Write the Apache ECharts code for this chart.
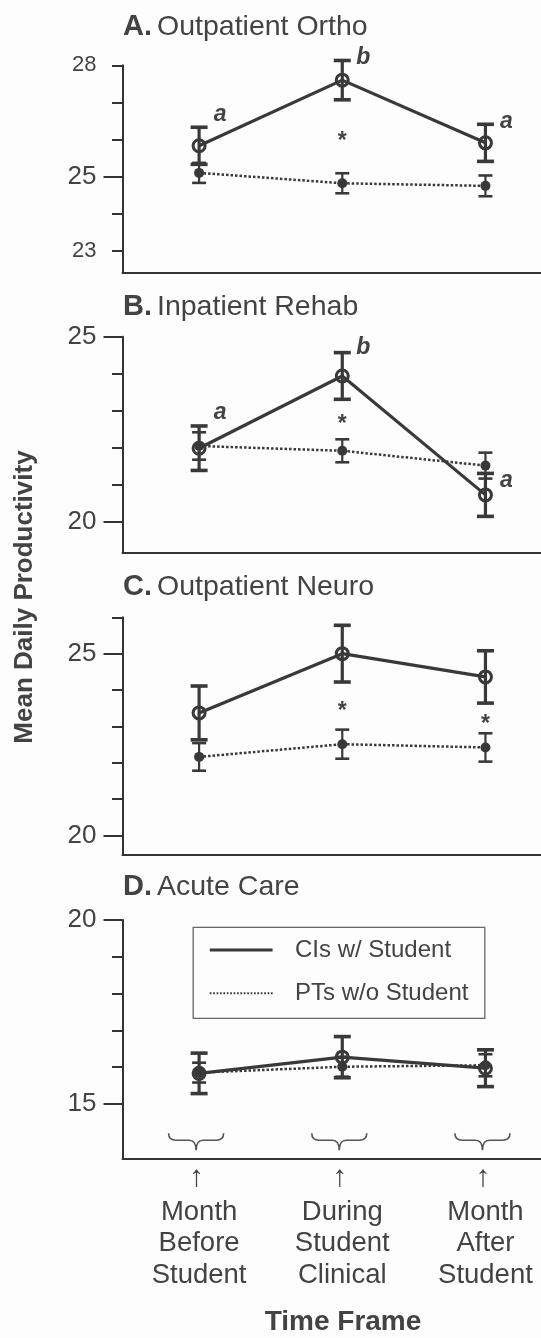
<!DOCTYPE html>
<html><head><meta charset="utf-8">
<script src="https://cdn.jsdelivr.net/npm/echarts@6/dist/echarts.min.js"></script>
<style>html,body{margin:0;padding:0;background:#fdfdfd}#c{width:541px;height:1338px}</style>
</head><body><div id="c"></div>
<script>
// ---------- data ----------
const categories = ['Month\nBefore\nStudent', 'During\nStudent\nClinical', 'Month\nAfter\nStudent'];
const panelLetters = ['A.', 'B.', 'C.', 'D.'];
const panelNames = ['Outpatient Ortho', 'Inpatient Rehab', 'Outpatient Neuro', 'Acute Care'];
const seriesNames = ['CIs w/ Student', 'PTs w/o Student'];

// A. Outpatient Ortho
const ciMeanA = [25.83, 27.60, 25.91];
const ciErrA  = [0.50, 0.53, 0.50];
const ptMeanA = [25.10, 24.82, 24.75];
const ptErrA  = [0.27, 0.27, 0.28];
const notesA  = [[0, 26.61, 'a'], [1, 28.20, 'b'], [2, 26.42, 'a'], [1, 26.07, '*']];
const yRangeA = [22.42, 28];
const yMinorA = [23, 24, 25, 26, 27, 28];
const yMajorA = [25];
const yLabelsA = [23, 25, 28];
const ySmallA = [23, 28];

// B. Inpatient Rehab
const ciMeanB = [21.99, 23.94, 20.73];
const ciErrB  = [0.60, 0.63, 0.58];
const ptMeanB = [22.05, 21.92, 21.52];
const ptErrB  = [0.37, 0.31, 0.35];
const notesB  = [[0, 22.89, 'a'], [1, 24.70, 'b'], [2, 21.07, 'a'], [1, 22.75, '*']];
const yRangeB = [19.18, 25];
const yMinorB = [20, 21, 22, 23, 24, 25];
const yMajorB = [20, 25];
const yLabelsB = [20, 25];

// C. Outpatient Neuro
const ciMeanC = [23.37, 25.00, 24.36];
const ciErrC  = [0.74, 0.78, 0.72];
const ptMeanC = [22.16, 22.51, 22.42];
const ptErrC  = [0.38, 0.40, 0.39];
const notesC  = [[1, 23.53, '*'], [2, 23.19, '*']];
const yRangeC = [19.47, 26];
const yMinorC = [20, 21, 22, 23, 24, 25, 26];
const yMajorC = [20, 25];
const yLabelsC = [20, 25];

// D. Acute Care
const ciMeanD = [15.83, 16.27, 15.97];
const ciErrD  = [0.55, 0.56, 0.50];
const ptMeanD = [15.85, 16.01, 16.05];
const ptErrD  = [0.27, 0.27, 0.30];
const notesD  = [];
const yRangeD = [13.52, 20];
const yMinorD = [15, 16, 17, 18, 19, 20];
const yMajorD = [15, 20];
const yLabelsD = [15, 20];

// ---------- build ----------
const INK = '#393939';
const TXT = '#434343';
const FONT = '"Liberation Sans", Arial, Helvetica, sans-serif';
const X_RANGE = [-0.535, 2.388];

const panels = [
  {ci: ciMeanA, ciE: ciErrA, pt: ptMeanA, ptE: ptErrA, notes: notesA, range: yRangeA, minor: yMinorA, major: yMajorA, labels: yLabelsA, small: ySmallA, top: 65.3, height: 207, titleY: 27},
  {ci: ciMeanB, ciE: ciErrB, pt: ptMeanB, ptE: ptErrB, notes: notesB, range: yRangeB, minor: yMinorB, major: yMajorB, labels: yLabelsB, small: [], top: 336.7, height: 215.6, titleY: 306.7},
  {ci: ciMeanC, ciE: ciErrC, pt: ptMeanC, ptE: ptErrC, notes: notesC, range: yRangeC, minor: yMinorC, major: yMajorC, labels: yLabelsC, small: [], top: 617.3, height: 237.4, titleY: 586.7},
  {ci: ciMeanD, ciE: ciErrD, pt: ptMeanD, ptE: ptErrD, notes: notesD, range: yRangeD, minor: yMinorD, major: yMajorD, labels: yLabelsD, small: [], top: 920, height: 238.3, titleY: 887.3}
];

const grid = [], xAxis = [], yAxis = [], series = [], title = [];

function errRender(lineW, capW, capT) {
  return function (params, api) {
    const x = api.value(0), lo = api.value(1), hi = api.value(2);
    const a = api.coord([x, hi]), b = api.coord([x, lo]);
    const st = {stroke: INK, lineWidth: lineW};
    const cs = {stroke: INK, lineWidth: capT};
    return {type: 'group', children: [
      {type: 'line', shape: {x1: a[0], y1: a[1], x2: b[0], y2: b[1]}, style: st},
      {type: 'line', shape: {x1: a[0] - capW / 2, y1: a[1], x2: a[0] + capW / 2, y2: a[1]}, style: cs},
      {type: 'line', shape: {x1: b[0] - capW / 2, y1: b[1], x2: b[0] + capW / 2, y2: b[1]}, style: cs}
    ]};
  };
}

panels.forEach((p, i) => {
  grid.push({left: 122.5, right: 0, top: p.top, height: p.height, containLabel: false});
  const isLast = i === panels.length - 1;
  xAxis.push({
    gridIndex: i, type: 'value', min: X_RANGE[0], max: X_RANGE[1],
    axisLine: {show: true, onZero: false, lineStyle: {color: '#333', width: 2}},
    axisTick: {show: false}, splitLine: {show: false},
    axisLabel: isLast ? {
      show: true, customValues: [0, 1, 2], margin: 0,
      formatter: v => {
        const lines = categories[Math.round(v)].split('\n');
        return '{arr|\u2191}\n' + lines.map(l => '{t|' + l + '}').join('\n');
      },
      rich: {
        arr: {fontSize: 30, lineHeight: 38, color: TXT, fontFamily: FONT, padding: [0, 5, 0, 0]},
        t: {fontSize: 27.5, lineHeight: 31.7, color: TXT, fontFamily: FONT}
      }
    } : {show: false}
  });
  // minor ticks + axis line
  yAxis.push({
    gridIndex: i, type: 'value', position: 'left', min: p.range[0], max: p.range[1],
    axisLine: {show: true, onZero: false, lineStyle: {color: '#333', width: 2}},
    axisTick: {show: true, length: 10.5, customValues: p.minor, lineStyle: {color: '#333', width: 2}},
    axisLabel: {show: false}, splitLine: {show: false}
  });
  // major ticks + labels
  yAxis.push({
    gridIndex: i, type: 'value', position: 'left', min: p.range[0], max: p.range[1],
    axisLine: {show: false, onZero: false},
    axisTick: {show: true, length: 19, customValues: p.major, lineStyle: {color: '#333', width: 2}},
    axisLabel: {
      show: true, customValues: p.labels, margin: 26,
      formatter: v => (p.small.indexOf(v) >= 0 ? '{s|' + v + '}' : '{l|' + v + '}'),
      rich: {
        s: {fontSize: 22, color: TXT, fontFamily: FONT},
        l: {fontSize: 26, color: TXT, fontFamily: FONT}
      }
    },
    splitLine: {show: false}
  });
  const yi = i * 2;
  // PT dotted
  series.push({
    type: 'line', name: seriesNames[1], xAxisIndex: i, yAxisIndex: yi, z: 2,
    data: p.pt.map((v, k) => [k, v]),
    lineStyle: {color: INK, width: 2.5, type: [2.5, 2]},
    symbol: 'circle', symbolSize: 10, itemStyle: {color: INK},
    animation: false
  });
  series.push({
    type: 'custom', xAxisIndex: i, yAxisIndex: yi, z: 3,
    data: p.pt.map((v, k) => [k, v - p.ptE[k], v + p.ptE[k]]),
    encode: {x: 0, y: [1, 2]},
    renderItem: errRender(2.2, 14, 2.6), animation: false
  });
  // CI solid
  series.push({
    type: 'line', name: seriesNames[0], xAxisIndex: i, yAxisIndex: yi, z: 4,
    data: p.ci.map((v, k) => [k, v]),
    lineStyle: {color: INK, width: 3.2},
    symbol: 'circle', symbolSize: 12,
    itemStyle: {color: 'rgba(0,0,0,0)', borderColor: INK, borderWidth: 3},
    animation: false
  });
  series.push({
    type: 'custom', xAxisIndex: i, yAxisIndex: yi, z: 5,
    data: p.ci.map((v, k) => [k, v - p.ciE[k], v + p.ciE[k]]),
    encode: {x: 0, y: [1, 2]},
    renderItem: errRender(3.2, 17, 3.6), animation: false
  });
  // annotations
  if (p.notes.length) {
    series.push({
      type: 'custom', xAxisIndex: i, yAxisIndex: yi, z: 6,
      data: p.notes.map(n => [n[0], n[1]]),
      encode: {x: 0, y: 1},
      renderItem: (params, api) => {
        const n = p.notes[params.dataIndex];
        const c = api.coord([n[0], n[1]]);
        const star = n[2] === '*';
        const dx = star ? 0 : 21;
        const dy = star ? 5 : (n[2] === 'a' ? -2 : 0);
        return {type: 'text', x: c[0] + dx, y: c[1] + dy, style: {
          text: n[2], fill: TXT, align: 'center', verticalAlign: 'middle',
          font: (star ? 'bold 23px ' : 'italic bold 23px ') + FONT
        }};
      },
      animation: false
    });
  }
  // panel title
  title.push({
    left: 123, top: p.titleY - 17, padding: 0,
    text: '{b|' + panelLetters[i] + '} {n|' + panelNames[i] + '}',
    textStyle: {fontWeight: 'normal', rich: {
      b: {fontSize: 29, fontWeight: 'bold', color: TXT, fontFamily: FONT, lineHeight: 34},
      n: {fontSize: 28.5, fontWeight: 'normal', color: TXT, fontFamily: FONT, lineHeight: 34}
    }}
  });
});

// braces under panel D (one per time frame)
series.push({
  type: 'custom', xAxisIndex: 3, yAxisIndex: 6, z: 3,
  data: categories.map((c, k) => [k, yRangeD[0]]),
  encode: {x: 0, y: 1},
  renderItem: (params, api) => {
    const c = api.coord([api.value(0), api.value(1)]);
    const x = c[0] - 3, y = c[1] - 25;
    return {type: 'path', shape: {
      pathData: 'M' + (x - 27.5) + ',' + y + ' Q' + (x - 27.5) + ',' + (y + 7) + ' ' + (x - 20) + ',' + (y + 7) +
        ' L' + (x - 7) + ',' + (y + 7) + ' Q' + x + ',' + (y + 7) + ' ' + x + ',' + (y + 17) +
        ' Q' + x + ',' + (y + 7) + ' ' + (x + 7) + ',' + (y + 7) + ' L' + (x + 20) + ',' + (y + 7) +
        ' Q' + (x + 27.5) + ',' + (y + 7) + ' ' + (x + 27.5) + ',' + y
    }, style: {stroke: '#555', lineWidth: 1.6, fill: null}};
  },
  animation: false
});

const chart = echarts.init(document.getElementById('c'));
chart.setOption({
  backgroundColor: '#fdfdfd',
  animation: false,
  title, grid, xAxis, yAxis, series,
  graphic: [
    {type: 'text', x: 25, y: 597, rotation: Math.PI / 2, style: {
      text: 'Mean Daily Productivity', fill: TXT, align: 'center', verticalAlign: 'middle',
      font: 'bold 26px ' + FONT}},
    {type: 'text', x: 343, y: 1322, style: {
      text: 'Time Frame', fill: TXT, align: 'center', verticalAlign: 'middle',
      font: 'bold 28px ' + FONT}},
    // legend
    {type: 'rect', shape: {x: 193.2, y: 927.3, width: 291.6, height: 91},
      style: {fill: 'none', stroke: '#666', lineWidth: 1.3}},
    {type: 'line', shape: {x1: 209.8, y1: 950, x2: 272.6, y2: 950}, style: {stroke: INK, lineWidth: 3.2}},
    {type: 'text', x: 295, y: 950, style: {text: seriesNames[0], fill: TXT, verticalAlign: 'middle', font: '24px ' + FONT}},
    {type: 'line', shape: {x1: 209.8, y1: 993.3, x2: 272.6, y2: 993.3}, style: {stroke: INK, lineWidth: 2, lineDash: [1.7, 1.7]}},
    {type: 'text', x: 295, y: 993.3, style: {text: seriesNames[1], fill: TXT, verticalAlign: 'middle', font: '24px ' + FONT}}
  ]
});
</script>
</body></html>
